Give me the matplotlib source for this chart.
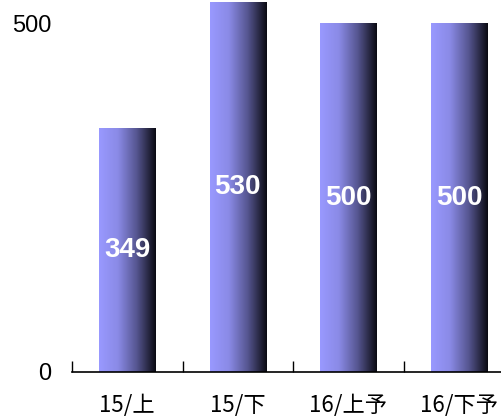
import numpy as np
import matplotlib
matplotlib.use("Agg")
import matplotlib.pyplot as plt
from matplotlib.colors import LinearSegmentedColormap

plt.rcParams['font.family'] = ['Noto Sans CJK JP', 'DejaVu Sans']

categories = ["15/上", "15/下", "16/上予", "16/下予"]
values = [349, 530, 500, 500]
y_ticks = [0, 500]

fig = plt.figure(figsize=(5.02, 4.16), dpi=100)
ax = fig.add_axes([72 / 502, 44 / 416, 430 / 502, 372 / 416])

cmap = LinearSegmentedColormap.from_list("bar_grad", ["#9999ff", "#8a8ae6", "#55558f", "#0a0a12"])
grad = np.linspace(0, 1, 256).reshape(1, -1)

width = 0.507
x = np.arange(len(categories))
for xi, v in zip(x, values):
    ax.imshow(grad, cmap=cmap, aspect='auto', interpolation='bilinear',
              extent=(xi - width / 2, xi + width / 2, 0, v), zorder=2)
    ax.text(xi, v / 2, str(v), ha='center', va='center', color='white',
            fontsize=20, fontweight='bold', family='Liberation Sans', zorder=3)

ax.set_xlim(-0.5, 3.39)
ax.set_ylim(0, 534)

for side in ['left', 'right', 'top']:
    ax.spines[side].set_visible(False)
ax.spines['bottom'].set_linewidth(1.2)

ax.set_xticks(x)
ax.set_xticklabels(categories, fontsize=16)
ax.tick_params(axis='x', which='major', length=0, pad=15.5)
ax.set_xticks(np.arange(-0.5, len(categories) - 0.5, 1.0), minor=True)
ax.tick_params(axis='x', which='minor', direction='in', length=8, width=1)

ax.set_yticks(y_ticks)
ax.set_yticklabels([str(t) for t in y_ticks], fontsize=17, family='Liberation Sans')
ax.tick_params(axis='y', length=0, pad=15)

fig.savefig("out.png", dpi=100)
